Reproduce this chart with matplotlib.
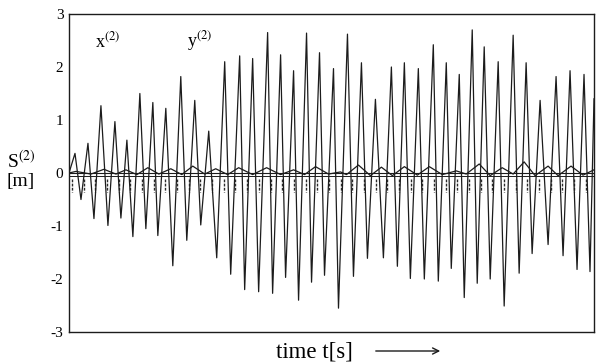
import numpy as np
import matplotlib.pyplot as plt
from matplotlib.patches import FancyArrowPatch

plt.rcParams["font.family"] = ["Liberation Serif", "DejaVu Serif"]
plt.rcParams["mathtext.fontset"] = "stix"

# y(2): spike maxima and minima (t, value)
peak_t = [0.6, 1.9, 3.2, 4.6, 5.8, 7.1, 8.4, 9.7, 11.2, 12.6, 14.0, 15.6, 17.1,
          18.4, 19.9, 21.2, 22.5, 23.8, 25.1, 26.5, 27.9, 29.3, 30.7, 32.3, 33.6,
          35.0, 36.5, 37.8, 39.1, 40.4, 41.6, 43.0, 44.5, 45.8, 47.2, 48.8, 50.2, 51.6]
peak_v = [0.37, 0.56, 1.27, 0.97, 0.62, 1.50, 1.33, 1.22, 1.82, 1.37, 0.79, 2.10, 2.21,
          2.16, 2.65, 2.23, 1.93, 2.64, 2.27, 1.97, 2.62, 2.08, 1.39, 2.00, 2.08,
          1.97, 2.42, 2.08, 1.86, 2.70, 2.38, 2.10, 2.60, 2.08, 1.37, 1.82, 1.93, 1.86]
trough_t = [1.2, 2.5, 3.9, 5.2, 6.4, 7.7, 8.9, 10.4, 11.8, 13.2, 14.8, 16.2, 17.6,
            19.0, 20.4, 21.7, 23.0, 24.3, 25.6, 27.0, 28.5, 29.9, 31.5, 32.9, 34.2,
            35.6, 37.0, 38.3, 39.6, 40.9, 42.2, 43.6, 45.1, 46.4, 48.0, 49.5, 50.9, 52.2]
trough_v = [-0.50, -0.86, -0.99, -0.85, -1.20, -1.05, -1.18, -1.75, -1.27, -0.98, -1.60,
            -1.91, -2.20, -2.24, -2.27, -1.97, -2.40, -2.06, -1.93, -2.55, -1.95, -1.61,
            -1.60, -1.76, -1.99, -2.00, -2.04, -1.80, -2.35, -2.08, -2.00, -2.51, -1.89,
            -1.52, -1.35, -1.56, -1.82, -1.86]
y_start = (0.0, 0.0)
y_end = (52.6, 1.4)

# x(2): small humps near zero
x2_t = [0.0, 0.7, 2.2, 3.5, 4.7, 5.7, 6.8, 7.9, 9.0, 10.2, 11.3, 12.4, 13.6, 14.7,
        15.9, 17.0, 18.4, 19.8, 21.2, 22.5, 23.6, 24.7, 26.0, 27.2, 27.8, 29.0, 30.2,
        31.3, 32.4, 33.6, 34.9, 36.1, 37.4, 38.8, 39.8, 41.1, 42.2, 43.4, 44.5, 45.6,
        46.7, 48.0, 49.0, 50.3, 51.5, 52.6]
x2_v = [0.0, 0.03, -0.02, 0.07, -0.02, 0.06, -0.03, 0.10, -0.02, 0.08, -0.03, 0.13,
        -0.02, 0.08, -0.03, 0.10, -0.03, 0.10, -0.03, 0.06, -0.03, 0.12, -0.02, 0.02,
        -0.03, 0.15, -0.05, 0.11, -0.05, 0.12, -0.04, 0.12, -0.03, 0.04, -0.02, 0.17,
        -0.05, 0.10, -0.02, 0.21, -0.05, 0.13, -0.05, 0.13, -0.04, 0.06]

y_ticks = [-3, -2, -1, 0, 1, 2, 3]

# interleave maxima and minima into one line
yt = [y_start[0]]
yv = [y_start[1]]
for a, b, c, d in zip(peak_t, peak_v, trough_t, trough_v):
    yt += [a, c]
    yv += [b, d]
yt.append(y_end[0])
yv.append(y_end[1])

fig = plt.figure(figsize=(5.96, 3.63), dpi=100)
ax = fig.add_axes([69 / 596, 31 / 363, 525 / 596, 318 / 363])

ink = "#1c1c1c"
ax.axhline(0, color=ink, lw=0.8)
ax.axhline(-0.06, color=ink, lw=0.7)
ax.vlines(np.arange(0.3, 52.6, 1.17), -0.12, -0.36, color="#2a2a2a", lw=1.0,
          linestyles=(0, (2.0, 1.0)))
ax.plot(x2_t, x2_v, color=ink, lw=0.9)
ax.plot(yt, yv, color=ink, lw=0.9)

ax.set_xlim(0, 52.6)
ax.set_ylim(-3, 3)
ax.set_xticks([])
ax.set_yticks(y_ticks)
ax.set_yticklabels([str(v) for v in y_ticks])
ax.tick_params(axis="y", length=0, pad=4, labelsize=11)
for s in ax.spines.values():
    s.set_linewidth(1.0)
    s.set_color(ink)

ax.text(0.05, 0.915, r"x$^{\rm (2)}$", transform=ax.transAxes, fontsize=13,
        va="center")
ax.text(0.224, 0.915, r"y$^{\rm (2)}$", transform=ax.transAxes, fontsize=13,
        va="center")

fig.text(7 / 596, 1 - 161 / 363, r"S$^{\rm (2)}$", fontsize=14, va="center")
fig.text(7 / 596, 1 - 181 / 363, "[m]", fontsize=14, va="center")

fig.text(314 / 596, 1 - 352 / 363, "time t[s]", fontsize=16.5, ha="center",
         va="center")
fig.patches.append(FancyArrowPatch(
    (373 / 596, 1 - 351 / 363), (443 / 596, 1 - 351 / 363),
    transform=fig.transFigure, arrowstyle="->", mutation_scale=11, lw=1.0,
    color=ink))

fig.savefig("out.png", dpi=100)
